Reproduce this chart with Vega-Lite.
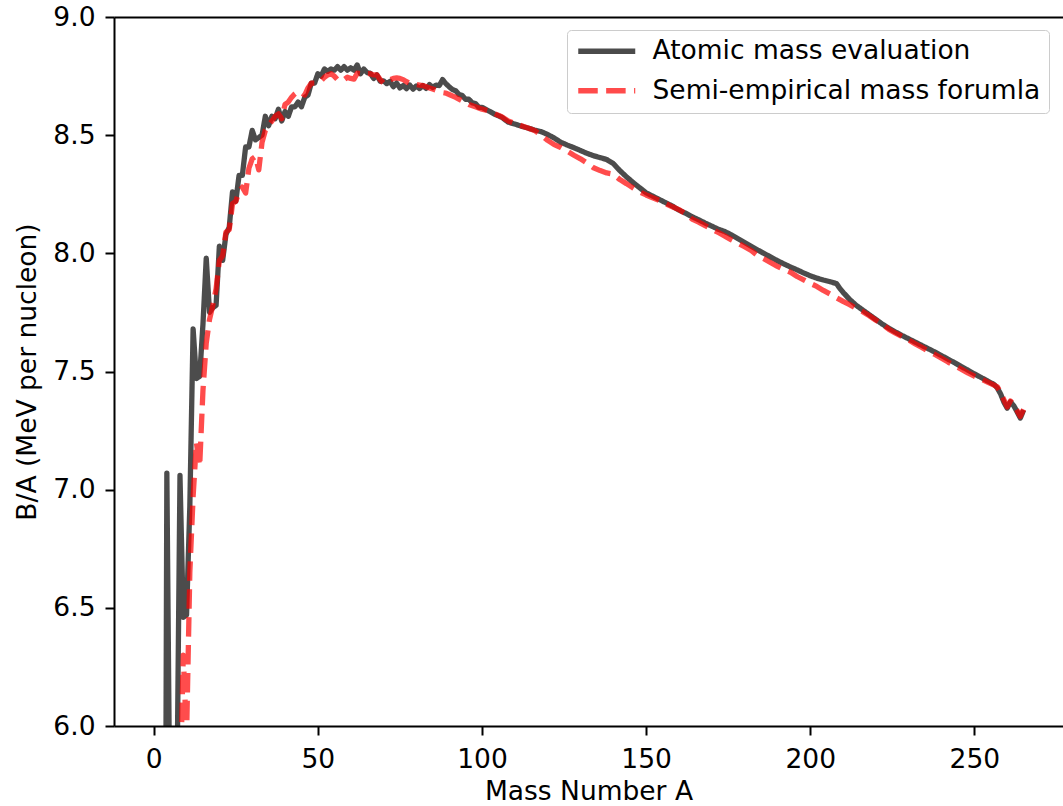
{
  "$schema": "https://vega.github.io/schema/vega-lite/v6.json",
  "autosize": {"type": "none"},
  "width": 949,
  "height": 709,
  "padding": {"left": 114, "top": 17, "right": 0, "bottom": 80},
  "background": "white",
  "config": {
    "view": {"stroke": null},
    "font": "DejaVu Sans",
    "axis": {
      "labelFont": "DejaVu Sans", "titleFont": "DejaVu Sans",
      "labelFontSize": 26.5, "titleFontSize": 26.5, "titleFontWeight": "normal",
      "labelColor": "black", "titleColor": "black",
      "domainColor": "black", "domainWidth": 2,
      "tickColor": "black", "tickWidth": 2, "tickSize": 9,
      "grid": false
    },
    "legend": {
      "labelFont": "DejaVu Sans", "labelFontSize": 26.5, "labelColor": "black"
    }
  },
  "data": {"values": [
    {"A":1,"BA":0.0,"s":"Atomic mass evaluation"},
    {"A":2,"BA":1.11,"s":"Atomic mass evaluation"},
    {"A":3,"BA":2.83,"s":"Atomic mass evaluation"},
    {"A":4,"BA":7.07,"s":"Atomic mass evaluation"},
    {"A":5,"BA":5.48,"s":"Atomic mass evaluation"},
    {"A":6,"BA":5.33,"s":"Atomic mass evaluation"},
    {"A":7,"BA":5.61,"s":"Atomic mass evaluation"},
    {"A":8,"BA":7.06,"s":"Atomic mass evaluation"},
    {"A":9,"BA":6.46,"s":"Atomic mass evaluation"},
    {"A":10,"BA":6.47,"s":"Atomic mass evaluation"},
    {"A":11,"BA":6.93,"s":"Atomic mass evaluation"},
    {"A":12,"BA":7.68,"s":"Atomic mass evaluation"},
    {"A":13,"BA":7.47,"s":"Atomic mass evaluation"},
    {"A":14,"BA":7.48,"s":"Atomic mass evaluation"},
    {"A":15,"BA":7.70,"s":"Atomic mass evaluation"},
    {"A":16,"BA":7.98,"s":"Atomic mass evaluation"},
    {"A":17,"BA":7.75,"s":"Atomic mass evaluation"},
    {"A":18,"BA":7.77,"s":"Atomic mass evaluation"},
    {"A":19,"BA":7.78,"s":"Atomic mass evaluation"},
    {"A":20,"BA":8.03,"s":"Atomic mass evaluation"},
    {"A":21,"BA":7.97,"s":"Atomic mass evaluation"},
    {"A":22,"BA":8.08,"s":"Atomic mass evaluation"},
    {"A":23,"BA":8.11,"s":"Atomic mass evaluation"},
    {"A":24,"BA":8.26,"s":"Atomic mass evaluation"},
    {"A":25,"BA":8.22,"s":"Atomic mass evaluation"},
    {"A":26,"BA":8.33,"s":"Atomic mass evaluation"},
    {"A":27,"BA":8.33,"s":"Atomic mass evaluation"},
    {"A":28,"BA":8.45,"s":"Atomic mass evaluation"},
    {"A":29,"BA":8.45,"s":"Atomic mass evaluation"},
    {"A":30,"BA":8.52,"s":"Atomic mass evaluation"},
    {"A":31,"BA":8.48,"s":"Atomic mass evaluation"},
    {"A":32,"BA":8.49,"s":"Atomic mass evaluation"},
    {"A":33,"BA":8.50,"s":"Atomic mass evaluation"},
    {"A":34,"BA":8.58,"s":"Atomic mass evaluation"},
    {"A":35,"BA":8.54,"s":"Atomic mass evaluation"},
    {"A":36,"BA":8.58,"s":"Atomic mass evaluation"},
    {"A":37,"BA":8.57,"s":"Atomic mass evaluation"},
    {"A":38,"BA":8.61,"s":"Atomic mass evaluation"},
    {"A":39,"BA":8.56,"s":"Atomic mass evaluation"},
    {"A":40,"BA":8.60,"s":"Atomic mass evaluation"},
    {"A":41,"BA":8.58,"s":"Atomic mass evaluation"},
    {"A":42,"BA":8.62,"s":"Atomic mass evaluation"},
    {"A":43,"BA":8.62,"s":"Atomic mass evaluation"},
    {"A":44,"BA":8.64,"s":"Atomic mass evaluation"},
    {"A":45,"BA":8.62,"s":"Atomic mass evaluation"},
    {"A":46,"BA":8.66,"s":"Atomic mass evaluation"},
    {"A":47,"BA":8.67,"s":"Atomic mass evaluation"},
    {"A":48,"BA":8.72,"s":"Atomic mass evaluation"},
    {"A":49,"BA":8.72,"s":"Atomic mass evaluation"},
    {"A":50,"BA":8.76,"s":"Atomic mass evaluation"},
    {"A":51,"BA":8.75,"s":"Atomic mass evaluation"},
    {"A":52,"BA":8.78,"s":"Atomic mass evaluation"},
    {"A":53,"BA":8.77,"s":"Atomic mass evaluation"},
    {"A":54,"BA":8.78,"s":"Atomic mass evaluation"},
    {"A":55,"BA":8.775,"s":"Atomic mass evaluation"},
    {"A":56,"BA":8.79,"s":"Atomic mass evaluation"},
    {"A":57,"BA":8.775,"s":"Atomic mass evaluation"},
    {"A":58,"BA":8.79,"s":"Atomic mass evaluation"},
    {"A":59,"BA":8.775,"s":"Atomic mass evaluation"},
    {"A":60,"BA":8.785,"s":"Atomic mass evaluation"},
    {"A":61,"BA":8.775,"s":"Atomic mass evaluation"},
    {"A":62,"BA":8.797,"s":"Atomic mass evaluation"},
    {"A":63,"BA":8.76,"s":"Atomic mass evaluation"},
    {"A":64,"BA":8.78,"s":"Atomic mass evaluation"},
    {"A":65,"BA":8.765,"s":"Atomic mass evaluation"},
    {"A":66,"BA":8.762,"s":"Atomic mass evaluation"},
    {"A":67,"BA":8.74,"s":"Atomic mass evaluation"},
    {"A":68,"BA":8.755,"s":"Atomic mass evaluation"},
    {"A":69,"BA":8.728,"s":"Atomic mass evaluation"},
    {"A":70,"BA":8.73,"s":"Atomic mass evaluation"},
    {"A":71,"BA":8.718,"s":"Atomic mass evaluation"},
    {"A":72,"BA":8.728,"s":"Atomic mass evaluation"},
    {"A":73,"BA":8.705,"s":"Atomic mass evaluation"},
    {"A":74,"BA":8.72,"s":"Atomic mass evaluation"},
    {"A":75,"BA":8.70,"s":"Atomic mass evaluation"},
    {"A":76,"BA":8.71,"s":"Atomic mass evaluation"},
    {"A":77,"BA":8.697,"s":"Atomic mass evaluation"},
    {"A":78,"BA":8.712,"s":"Atomic mass evaluation"},
    {"A":79,"BA":8.695,"s":"Atomic mass evaluation"},
    {"A":80,"BA":8.708,"s":"Atomic mass evaluation"},
    {"A":81,"BA":8.697,"s":"Atomic mass evaluation"},
    {"A":82,"BA":8.71,"s":"Atomic mass evaluation"},
    {"A":83,"BA":8.698,"s":"Atomic mass evaluation"},
    {"A":84,"BA":8.714,"s":"Atomic mass evaluation"},
    {"A":85,"BA":8.702,"s":"Atomic mass evaluation"},
    {"A":86,"BA":8.712,"s":"Atomic mass evaluation"},
    {"A":87,"BA":8.71,"s":"Atomic mass evaluation"},
    {"A":88,"BA":8.735,"s":"Atomic mass evaluation"},
    {"A":89,"BA":8.718,"s":"Atomic mass evaluation"},
    {"A":90,"BA":8.705,"s":"Atomic mass evaluation"},
    {"A":91,"BA":8.693,"s":"Atomic mass evaluation"},
    {"A":92,"BA":8.688,"s":"Atomic mass evaluation"},
    {"A":93,"BA":8.672,"s":"Atomic mass evaluation"},
    {"A":94,"BA":8.668,"s":"Atomic mass evaluation"},
    {"A":95,"BA":8.652,"s":"Atomic mass evaluation"},
    {"A":96,"BA":8.652,"s":"Atomic mass evaluation"},
    {"A":97,"BA":8.637,"s":"Atomic mass evaluation"},
    {"A":98,"BA":8.634,"s":"Atomic mass evaluation"},
    {"A":99,"BA":8.618,"s":"Atomic mass evaluation"},
    {"A":100,"BA":8.618,"s":"Atomic mass evaluation"},
    {"A":102,"BA":8.603,"s":"Atomic mass evaluation"},
    {"A":104,"BA":8.588,"s":"Atomic mass evaluation"},
    {"A":106,"BA":8.576,"s":"Atomic mass evaluation"},
    {"A":108,"BA":8.555,"s":"Atomic mass evaluation"},
    {"A":110,"BA":8.547,"s":"Atomic mass evaluation"},
    {"A":112,"BA":8.538,"s":"Atomic mass evaluation"},
    {"A":114,"BA":8.53,"s":"Atomic mass evaluation"},
    {"A":116,"BA":8.522,"s":"Atomic mass evaluation"},
    {"A":118,"BA":8.515,"s":"Atomic mass evaluation"},
    {"A":120,"BA":8.503,"s":"Atomic mass evaluation"},
    {"A":122,"BA":8.488,"s":"Atomic mass evaluation"},
    {"A":124,"BA":8.47,"s":"Atomic mass evaluation"},
    {"A":126,"BA":8.458,"s":"Atomic mass evaluation"},
    {"A":128,"BA":8.447,"s":"Atomic mass evaluation"},
    {"A":130,"BA":8.435,"s":"Atomic mass evaluation"},
    {"A":132,"BA":8.423,"s":"Atomic mass evaluation"},
    {"A":134,"BA":8.413,"s":"Atomic mass evaluation"},
    {"A":136,"BA":8.405,"s":"Atomic mass evaluation"},
    {"A":138,"BA":8.397,"s":"Atomic mass evaluation"},
    {"A":140,"BA":8.38,"s":"Atomic mass evaluation"},
    {"A":142,"BA":8.35,"s":"Atomic mass evaluation"},
    {"A":144,"BA":8.324,"s":"Atomic mass evaluation"},
    {"A":146,"BA":8.30,"s":"Atomic mass evaluation"},
    {"A":148,"BA":8.278,"s":"Atomic mass evaluation"},
    {"A":150,"BA":8.256,"s":"Atomic mass evaluation"},
    {"A":152,"BA":8.242,"s":"Atomic mass evaluation"},
    {"A":154,"BA":8.228,"s":"Atomic mass evaluation"},
    {"A":156,"BA":8.214,"s":"Atomic mass evaluation"},
    {"A":158,"BA":8.200,"s":"Atomic mass evaluation"},
    {"A":160,"BA":8.183,"s":"Atomic mass evaluation"},
    {"A":162,"BA":8.170,"s":"Atomic mass evaluation"},
    {"A":164,"BA":8.155,"s":"Atomic mass evaluation"},
    {"A":166,"BA":8.142,"s":"Atomic mass evaluation"},
    {"A":168,"BA":8.128,"s":"Atomic mass evaluation"},
    {"A":170,"BA":8.115,"s":"Atomic mass evaluation"},
    {"A":172,"BA":8.102,"s":"Atomic mass evaluation"},
    {"A":174,"BA":8.092,"s":"Atomic mass evaluation"},
    {"A":176,"BA":8.078,"s":"Atomic mass evaluation"},
    {"A":178,"BA":8.062,"s":"Atomic mass evaluation"},
    {"A":180,"BA":8.046,"s":"Atomic mass evaluation"},
    {"A":182,"BA":8.030,"s":"Atomic mass evaluation"},
    {"A":184,"BA":8.014,"s":"Atomic mass evaluation"},
    {"A":186,"BA":7.999,"s":"Atomic mass evaluation"},
    {"A":188,"BA":7.984,"s":"Atomic mass evaluation"},
    {"A":190,"BA":7.969,"s":"Atomic mass evaluation"},
    {"A":192,"BA":7.955,"s":"Atomic mass evaluation"},
    {"A":194,"BA":7.942,"s":"Atomic mass evaluation"},
    {"A":196,"BA":7.930,"s":"Atomic mass evaluation"},
    {"A":198,"BA":7.917,"s":"Atomic mass evaluation"},
    {"A":200,"BA":7.905,"s":"Atomic mass evaluation"},
    {"A":202,"BA":7.895,"s":"Atomic mass evaluation"},
    {"A":204,"BA":7.887,"s":"Atomic mass evaluation"},
    {"A":206,"BA":7.880,"s":"Atomic mass evaluation"},
    {"A":208,"BA":7.872,"s":"Atomic mass evaluation"},
    {"A":209,"BA":7.852,"s":"Atomic mass evaluation"},
    {"A":210,"BA":7.835,"s":"Atomic mass evaluation"},
    {"A":212,"BA":7.805,"s":"Atomic mass evaluation"},
    {"A":214,"BA":7.780,"s":"Atomic mass evaluation"},
    {"A":216,"BA":7.760,"s":"Atomic mass evaluation"},
    {"A":218,"BA":7.740,"s":"Atomic mass evaluation"},
    {"A":220,"BA":7.720,"s":"Atomic mass evaluation"},
    {"A":222,"BA":7.700,"s":"Atomic mass evaluation"},
    {"A":224,"BA":7.683,"s":"Atomic mass evaluation"},
    {"A":226,"BA":7.667,"s":"Atomic mass evaluation"},
    {"A":228,"BA":7.652,"s":"Atomic mass evaluation"},
    {"A":230,"BA":7.638,"s":"Atomic mass evaluation"},
    {"A":232,"BA":7.624,"s":"Atomic mass evaluation"},
    {"A":234,"BA":7.610,"s":"Atomic mass evaluation"},
    {"A":236,"BA":7.596,"s":"Atomic mass evaluation"},
    {"A":238,"BA":7.582,"s":"Atomic mass evaluation"},
    {"A":240,"BA":7.567,"s":"Atomic mass evaluation"},
    {"A":242,"BA":7.552,"s":"Atomic mass evaluation"},
    {"A":244,"BA":7.537,"s":"Atomic mass evaluation"},
    {"A":246,"BA":7.521,"s":"Atomic mass evaluation"},
    {"A":248,"BA":7.506,"s":"Atomic mass evaluation"},
    {"A":250,"BA":7.490,"s":"Atomic mass evaluation"},
    {"A":252,"BA":7.475,"s":"Atomic mass evaluation"},
    {"A":254,"BA":7.460,"s":"Atomic mass evaluation"},
    {"A":256,"BA":7.445,"s":"Atomic mass evaluation"},
    {"A":257,"BA":7.430,"s":"Atomic mass evaluation"},
    {"A":258,"BA":7.405,"s":"Atomic mass evaluation"},
    {"A":259,"BA":7.370,"s":"Atomic mass evaluation"},
    {"A":260,"BA":7.345,"s":"Atomic mass evaluation"},
    {"A":261,"BA":7.372,"s":"Atomic mass evaluation"},
    {"A":262,"BA":7.355,"s":"Atomic mass evaluation"},
    {"A":263,"BA":7.330,"s":"Atomic mass evaluation"},
    {"A":264,"BA":7.303,"s":"Atomic mass evaluation"},
    {"A":265,"BA":7.337,"s":"Atomic mass evaluation"},

    {"A":6,"BA":4.6,"s":"Semi-empirical mass forumla"},
    {"A":7,"BA":5.1,"s":"Semi-empirical mass forumla"},
    {"A":8,"BA":5.7,"s":"Semi-empirical mass forumla"},
    {"A":9,"BA":6.30,"s":"Semi-empirical mass forumla"},
    {"A":10,"BA":5.95,"s":"Semi-empirical mass forumla"},
    {"A":11,"BA":6.65,"s":"Semi-empirical mass forumla"},
    {"A":12,"BA":6.97,"s":"Semi-empirical mass forumla"},
    {"A":13,"BA":7.20,"s":"Semi-empirical mass forumla"},
    {"A":14,"BA":7.10,"s":"Semi-empirical mass forumla"},
    {"A":15,"BA":7.42,"s":"Semi-empirical mass forumla"},
    {"A":16,"BA":7.62,"s":"Semi-empirical mass forumla"},
    {"A":17,"BA":7.72,"s":"Semi-empirical mass forumla"},
    {"A":18,"BA":7.78,"s":"Semi-empirical mass forumla"},
    {"A":19,"BA":7.85,"s":"Semi-empirical mass forumla"},
    {"A":20,"BA":7.97,"s":"Semi-empirical mass forumla"},
    {"A":21,"BA":7.99,"s":"Semi-empirical mass forumla"},
    {"A":22,"BA":8.09,"s":"Semi-empirical mass forumla"},
    {"A":23,"BA":8.10,"s":"Semi-empirical mass forumla"},
    {"A":24,"BA":8.21,"s":"Semi-empirical mass forumla"},
    {"A":25,"BA":8.22,"s":"Semi-empirical mass forumla"},
    {"A":26,"BA":8.26,"s":"Semi-empirical mass forumla"},
    {"A":27,"BA":8.28,"s":"Semi-empirical mass forumla"},
    {"A":28,"BA":8.255,"s":"Semi-empirical mass forumla"},
    {"A":29,"BA":8.36,"s":"Semi-empirical mass forumla"},
    {"A":30,"BA":8.40,"s":"Semi-empirical mass forumla"},
    {"A":31,"BA":8.41,"s":"Semi-empirical mass forumla"},
    {"A":32,"BA":8.353,"s":"Semi-empirical mass forumla"},
    {"A":33,"BA":8.47,"s":"Semi-empirical mass forumla"},
    {"A":34,"BA":8.52,"s":"Semi-empirical mass forumla"},
    {"A":35,"BA":8.543,"s":"Semi-empirical mass forumla"},
    {"A":36,"BA":8.56,"s":"Semi-empirical mass forumla"},
    {"A":37,"BA":8.58,"s":"Semi-empirical mass forumla"},
    {"A":38,"BA":8.59,"s":"Semi-empirical mass forumla"},
    {"A":39,"BA":8.57,"s":"Semi-empirical mass forumla"},
    {"A":40,"BA":8.63,"s":"Semi-empirical mass forumla"},
    {"A":41,"BA":8.64,"s":"Semi-empirical mass forumla"},
    {"A":42,"BA":8.66,"s":"Semi-empirical mass forumla"},
    {"A":43,"BA":8.675,"s":"Semi-empirical mass forumla"},
    {"A":44,"BA":8.685,"s":"Semi-empirical mass forumla"},
    {"A":45,"BA":8.68,"s":"Semi-empirical mass forumla"},
    {"A":46,"BA":8.67,"s":"Semi-empirical mass forumla"},
    {"A":47,"BA":8.70,"s":"Semi-empirical mass forumla"},
    {"A":48,"BA":8.72,"s":"Semi-empirical mass forumla"},
    {"A":49,"BA":8.72,"s":"Semi-empirical mass forumla"},
    {"A":50,"BA":8.726,"s":"Semi-empirical mass forumla"},
    {"A":51,"BA":8.73,"s":"Semi-empirical mass forumla"},
    {"A":52,"BA":8.745,"s":"Semi-empirical mass forumla"},
    {"A":53,"BA":8.755,"s":"Semi-empirical mass forumla"},
    {"A":54,"BA":8.76,"s":"Semi-empirical mass forumla"},
    {"A":55,"BA":8.75,"s":"Semi-empirical mass forumla"},
    {"A":56,"BA":8.735,"s":"Semi-empirical mass forumla"},
    {"A":57,"BA":8.74,"s":"Semi-empirical mass forumla"},
    {"A":58,"BA":8.735,"s":"Semi-empirical mass forumla"},
    {"A":59,"BA":8.745,"s":"Semi-empirical mass forumla"},
    {"A":60,"BA":8.74,"s":"Semi-empirical mass forumla"},
    {"A":61,"BA":8.737,"s":"Semi-empirical mass forumla"},
    {"A":62,"BA":8.762,"s":"Semi-empirical mass forumla"},
    {"A":63,"BA":8.76,"s":"Semi-empirical mass forumla"},
    {"A":64,"BA":8.765,"s":"Semi-empirical mass forumla"},
    {"A":65,"BA":8.76,"s":"Semi-empirical mass forumla"},
    {"A":66,"BA":8.76,"s":"Semi-empirical mass forumla"},
    {"A":67,"BA":8.755,"s":"Semi-empirical mass forumla"},
    {"A":68,"BA":8.755,"s":"Semi-empirical mass forumla"},
    {"A":69,"BA":8.735,"s":"Semi-empirical mass forumla"},
    {"A":70,"BA":8.72,"s":"Semi-empirical mass forumla"},
    {"A":71,"BA":8.725,"s":"Semi-empirical mass forumla"},
    {"A":72,"BA":8.735,"s":"Semi-empirical mass forumla"},
    {"A":73,"BA":8.74,"s":"Semi-empirical mass forumla"},
    {"A":74,"BA":8.742,"s":"Semi-empirical mass forumla"},
    {"A":75,"BA":8.74,"s":"Semi-empirical mass forumla"},
    {"A":76,"BA":8.735,"s":"Semi-empirical mass forumla"},
    {"A":77,"BA":8.726,"s":"Semi-empirical mass forumla"},
    {"A":78,"BA":8.72,"s":"Semi-empirical mass forumla"},
    {"A":79,"BA":8.715,"s":"Semi-empirical mass forumla"},
    {"A":80,"BA":8.714,"s":"Semi-empirical mass forumla"},
    {"A":81,"BA":8.712,"s":"Semi-empirical mass forumla"},
    {"A":82,"BA":8.71,"s":"Semi-empirical mass forumla"},
    {"A":83,"BA":8.705,"s":"Semi-empirical mass forumla"},
    {"A":84,"BA":8.70,"s":"Semi-empirical mass forumla"},
    {"A":85,"BA":8.695,"s":"Semi-empirical mass forumla"},
    {"A":86,"BA":8.69,"s":"Semi-empirical mass forumla"},
    {"A":87,"BA":8.685,"s":"Semi-empirical mass forumla"},
    {"A":88,"BA":8.68,"s":"Semi-empirical mass forumla"},
    {"A":89,"BA":8.678,"s":"Semi-empirical mass forumla"},
    {"A":90,"BA":8.672,"s":"Semi-empirical mass forumla"},
    {"A":92,"BA":8.66,"s":"Semi-empirical mass forumla"},
    {"A":94,"BA":8.645,"s":"Semi-empirical mass forumla"},
    {"A":96,"BA":8.63,"s":"Semi-empirical mass forumla"},
    {"A":98,"BA":8.62,"s":"Semi-empirical mass forumla"},
    {"A":100,"BA":8.61,"s":"Semi-empirical mass forumla"},
    {"A":102,"BA":8.603,"s":"Semi-empirical mass forumla"},
    {"A":104,"BA":8.59,"s":"Semi-empirical mass forumla"},
    {"A":106,"BA":8.578,"s":"Semi-empirical mass forumla"},
    {"A":108,"BA":8.56,"s":"Semi-empirical mass forumla"},
    {"A":110,"BA":8.55,"s":"Semi-empirical mass forumla"},
    {"A":112,"BA":8.54,"s":"Semi-empirical mass forumla"},
    {"A":114,"BA":8.53,"s":"Semi-empirical mass forumla"},
    {"A":116,"BA":8.52,"s":"Semi-empirical mass forumla"},
    {"A":118,"BA":8.50,"s":"Semi-empirical mass forumla"},
    {"A":120,"BA":8.478,"s":"Semi-empirical mass forumla"},
    {"A":122,"BA":8.46,"s":"Semi-empirical mass forumla"},
    {"A":124,"BA":8.448,"s":"Semi-empirical mass forumla"},
    {"A":126,"BA":8.432,"s":"Semi-empirical mass forumla"},
    {"A":128,"BA":8.415,"s":"Semi-empirical mass forumla"},
    {"A":130,"BA":8.40,"s":"Semi-empirical mass forumla"},
    {"A":132,"BA":8.382,"s":"Semi-empirical mass forumla"},
    {"A":134,"BA":8.362,"s":"Semi-empirical mass forumla"},
    {"A":136,"BA":8.35,"s":"Semi-empirical mass forumla"},
    {"A":138,"BA":8.34,"s":"Semi-empirical mass forumla"},
    {"A":140,"BA":8.335,"s":"Semi-empirical mass forumla"},
    {"A":142,"BA":8.312,"s":"Semi-empirical mass forumla"},
    {"A":144,"BA":8.295,"s":"Semi-empirical mass forumla"},
    {"A":146,"BA":8.277,"s":"Semi-empirical mass forumla"},
    {"A":148,"BA":8.26,"s":"Semi-empirical mass forumla"},
    {"A":150,"BA":8.247,"s":"Semi-empirical mass forumla"},
    {"A":152,"BA":8.235,"s":"Semi-empirical mass forumla"},
    {"A":154,"BA":8.224,"s":"Semi-empirical mass forumla"},
    {"A":156,"BA":8.21,"s":"Semi-empirical mass forumla"},
    {"A":158,"BA":8.197,"s":"Semi-empirical mass forumla"},
    {"A":160,"BA":8.185,"s":"Semi-empirical mass forumla"},
    {"A":162,"BA":8.168,"s":"Semi-empirical mass forumla"},
    {"A":164,"BA":8.145,"s":"Semi-empirical mass forumla"},
    {"A":166,"BA":8.132,"s":"Semi-empirical mass forumla"},
    {"A":168,"BA":8.117,"s":"Semi-empirical mass forumla"},
    {"A":170,"BA":8.103,"s":"Semi-empirical mass forumla"},
    {"A":172,"BA":8.088,"s":"Semi-empirical mass forumla"},
    {"A":174,"BA":8.073,"s":"Semi-empirical mass forumla"},
    {"A":176,"BA":8.057,"s":"Semi-empirical mass forumla"},
    {"A":178,"BA":8.043,"s":"Semi-empirical mass forumla"},
    {"A":180,"BA":8.028,"s":"Semi-empirical mass forumla"},
    {"A":182,"BA":8.012,"s":"Semi-empirical mass forumla"},
    {"A":184,"BA":7.99,"s":"Semi-empirical mass forumla"},
    {"A":186,"BA":7.976,"s":"Semi-empirical mass forumla"},
    {"A":188,"BA":7.96,"s":"Semi-empirical mass forumla"},
    {"A":190,"BA":7.945,"s":"Semi-empirical mass forumla"},
    {"A":192,"BA":7.932,"s":"Semi-empirical mass forumla"},
    {"A":194,"BA":7.92,"s":"Semi-empirical mass forumla"},
    {"A":196,"BA":7.902,"s":"Semi-empirical mass forumla"},
    {"A":198,"BA":7.888,"s":"Semi-empirical mass forumla"},
    {"A":200,"BA":7.873,"s":"Semi-empirical mass forumla"},
    {"A":202,"BA":7.86,"s":"Semi-empirical mass forumla"},
    {"A":204,"BA":7.843,"s":"Semi-empirical mass forumla"},
    {"A":206,"BA":7.828,"s":"Semi-empirical mass forumla"},
    {"A":208,"BA":7.812,"s":"Semi-empirical mass forumla"},
    {"A":210,"BA":7.797,"s":"Semi-empirical mass forumla"},
    {"A":212,"BA":7.783,"s":"Semi-empirical mass forumla"},
    {"A":214,"BA":7.767,"s":"Semi-empirical mass forumla"},
    {"A":216,"BA":7.753,"s":"Semi-empirical mass forumla"},
    {"A":218,"BA":7.736,"s":"Semi-empirical mass forumla"},
    {"A":220,"BA":7.717,"s":"Semi-empirical mass forumla"},
    {"A":222,"BA":7.70,"s":"Semi-empirical mass forumla"},
    {"A":224,"BA":7.678,"s":"Semi-empirical mass forumla"},
    {"A":226,"BA":7.662,"s":"Semi-empirical mass forumla"},
    {"A":228,"BA":7.648,"s":"Semi-empirical mass forumla"},
    {"A":230,"BA":7.633,"s":"Semi-empirical mass forumla"},
    {"A":232,"BA":7.617,"s":"Semi-empirical mass forumla"},
    {"A":234,"BA":7.602,"s":"Semi-empirical mass forumla"},
    {"A":236,"BA":7.586,"s":"Semi-empirical mass forumla"},
    {"A":238,"BA":7.572,"s":"Semi-empirical mass forumla"},
    {"A":240,"BA":7.556,"s":"Semi-empirical mass forumla"},
    {"A":242,"BA":7.54,"s":"Semi-empirical mass forumla"},
    {"A":244,"BA":7.525,"s":"Semi-empirical mass forumla"},
    {"A":246,"BA":7.51,"s":"Semi-empirical mass forumla"},
    {"A":248,"BA":7.494,"s":"Semi-empirical mass forumla"},
    {"A":250,"BA":7.48,"s":"Semi-empirical mass forumla"},
    {"A":252,"BA":7.468,"s":"Semi-empirical mass forumla"},
    {"A":254,"BA":7.455,"s":"Semi-empirical mass forumla"},
    {"A":256,"BA":7.442,"s":"Semi-empirical mass forumla"},
    {"A":257,"BA":7.435,"s":"Semi-empirical mass forumla"},
    {"A":258,"BA":7.41,"s":"Semi-empirical mass forumla"},
    {"A":259,"BA":7.38,"s":"Semi-empirical mass forumla"},
    {"A":260,"BA":7.35,"s":"Semi-empirical mass forumla"},
    {"A":261,"BA":7.375,"s":"Semi-empirical mass forumla"},
    {"A":262,"BA":7.36,"s":"Semi-empirical mass forumla"},
    {"A":263,"BA":7.335,"s":"Semi-empirical mass forumla"},
    {"A":264,"BA":7.31,"s":"Semi-empirical mass forumla"},
    {"A":265,"BA":7.34,"s":"Semi-empirical mass forumla"}
  ]},
  "resolve": {"axis": {"x": "independent"}},
  "layer": [
    {
      "mark": {"type": "line", "clip": true, "strokeWidth": 5.3, "opacity": 0.7, "strokeJoin": "round"},
      "encoding": {
        "x": {"field": "A", "type": "quantitative",
              "scale": {"domain": [-12.1, 277.0], "nice": false, "zero": false},
              "axis": {"values": [0, 50, 100, 150, 200, 250], "title": "Mass Number A", "labelPadding": 11, "titlePadding": 6}},
        "y": {"field": "BA", "type": "quantitative",
              "scale": {"domain": [6, 9], "nice": false, "zero": false},
              "axis": {"values": [6, 6.5, 7, 7.5, 8, 8.5, 9], "format": ".1f", "title": "B/A (MeV per nucleon)", "labelPadding": 10, "titlePadding": 11}},
        "color": {"field": "s", "type": "nominal",
                  "scale": {"domain": ["Atomic mass evaluation", "Semi-empirical mass forumla"], "range": ["black", "red"]},
                  "legend": {"title": null, "orient": "none", "legendX": 453, "legendY": 13,
                             "symbolType": "M-1,0H4.7", "symbolSize": 400, "symbolStrokeWidth": 5.3, "symbolOpacity": 0.7,
                             "fillColor": "white", "strokeColor": "#cccccc", "cornerRadius": 4, "padding": 8,
                             "labelOffset": 51, "rowPadding": 12.5, "labelLimit": 600}},
        "strokeDash": {"field": "s", "type": "nominal",
                  "scale": {"domain": ["Atomic mass evaluation", "Semi-empirical mass forumla"], "range": [[1, 0], [19.5, 8.4]]},
                  "legend": {"title": null, "orient": "none", "legendX": 453, "legendY": 13,
                             "symbolType": "M-1,0H4.7", "symbolSize": 400, "symbolStrokeWidth": 5.3, "symbolOpacity": 0.7,
                             "fillColor": "white", "strokeColor": "#cccccc", "cornerRadius": 4, "padding": 8,
                             "labelOffset": 51, "rowPadding": 12.5, "labelLimit": 600}}
      }
    },
    {
      "mark": {"type": "line", "opacity": 0, "clip": true},
      "encoding": {
        "x": {"field": "A", "type": "quantitative",
              "scale": {"domain": [-12.1, 277.0], "nice": false, "zero": false},
              "axis": {"orient": "top", "labels": false, "ticks": false, "title": null}},
        "y": {"field": "BA", "type": "quantitative"},
        "detail": {"field": "s", "type": "nominal"}
      }
    }
  ]
}
